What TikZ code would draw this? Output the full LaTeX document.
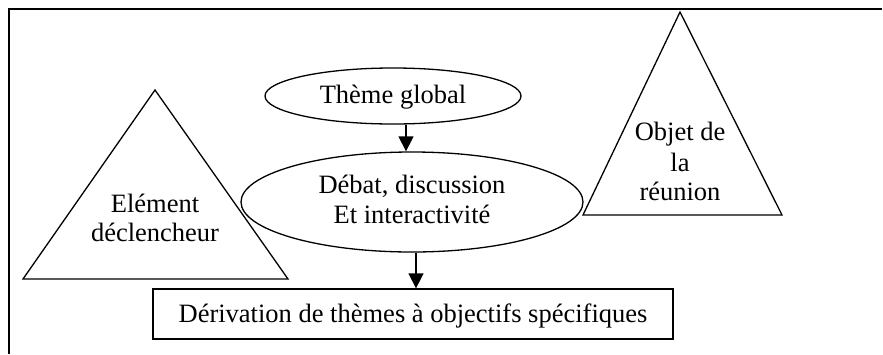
\documentclass[tikz,border=0pt]{standalone}
\usepackage{fontspec}
\setmainfont{Liberation Serif}
\usetikzlibrary{arrows.meta,shapes.geometric}
\begin{document}
\begin{tikzpicture}[x=1pt,y=-1pt,
  shapeline/.style={draw=black,line width=1.3pt},
  ell/.style={shapeline,ellipse,inner sep=0pt},
  txt/.style={anchor=base,inner sep=0pt,font=\fontsize{26.5}{29}\selectfont},
  arr/.style={line width=1.3pt,-{Triangle[width=15pt,length=15pt]}}]
\useasboundingbox (0,0) rectangle (883,354);
% frame (top and left edges)
\draw[line width=2.2pt] (9,354) -- (9,9) -- (882,9);
% left triangle
\coordinate (lt1) at (155,90);
\coordinate (lt2) at (23,279);
\coordinate (lt3) at (288,279);
\draw[shapeline,line join=miter] (lt1) -- (lt2) -- (lt3) -- cycle;
\node[txt] (ltA) at (155,212) {Elément};
\node[txt] (ltB) at (155,241) {déclencheur};
% right triangle
\coordinate (rt1) at (680,12);
\coordinate (rt2) at (583,215);
\coordinate (rt3) at (782,215);
\draw[shapeline,line join=miter] (rt1) -- (rt2) -- (rt3) -- cycle;
\node[txt] (rtA) at (680,140) {Objet de};
\node[txt] (rtB) at (680,171) {la};
\node[txt] (rtC) at (680,200) {réunion};
% ellipses
\node[ell,minimum width=256pt,minimum height=56pt] (theme) at (393,96) {};
\node[txt] (themeT) at (393,103) {Thème global};
\node[ell,minimum width=342pt,minimum height=100pt] (debat) at (412,202) {};
\node[txt] (debatA) at (412,193) {Débat, discussion};
\node[txt] (debatB) at (412,223) {Et interactivité};
% rectangle
\node[shapeline,rectangle,minimum width=520pt,minimum height=50pt,inner sep=0pt] (deriv) at (413,314) {};
\node[txt] (derivT) at (413,322) {Dérivation de thèmes à objectifs spécifiques};
% arrows
\path (theme.south) ++(13,0) coordinate (a1s);
\draw[arr] (a1s) -- (a1s |- debat.north);
\path (debat.south) ++(4,0) coordinate (a2s);
\draw[arr] (a2s) -- (a2s |- deriv.north);
\end{tikzpicture}
\end{document}
